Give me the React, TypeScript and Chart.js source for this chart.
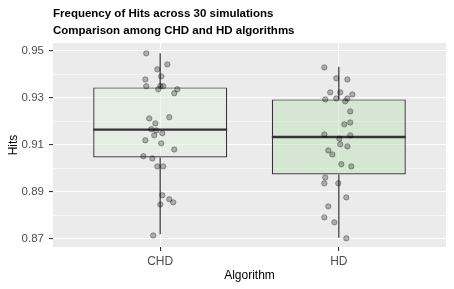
import React, { useEffect, useRef } from 'react';
import { Chart, registerables } from 'chart.js';

Chart.register(...registerables);

const titleLines = [
  'Frequency of Hits across 30 simulations',
  'Comparison among CHD and HD algorithms',
];
const categories = ['CHD', 'HD'];
const categoryPositions = [1, 2];
const xAxisTitle = 'Algorithm';
const yAxisTitle = 'Hits';

// box statistics per algorithm
const q1 = [0.9046, 0.8974];
const medians = [0.9164, 0.9133];
const q3 = [0.9344, 0.9293];
const whiskerLow = [0.8719, 0.8704];
const whiskerHigh = [0.9489, 0.9432];
const boxFills = ['rgba(225,239,223,0.5)', 'rgba(191,225,187,0.5)'];

// jittered simulation results
const chdJitterX = [
  0.922, 1.04, 0.984, 1.006, 0.917, 0.922, 1.001, 1.017, 0.989, 1.096,
  1.079, 0.939, 1.051, 0.973, 0.95, 0.978, 1.012, 0.967, 0.917, 1.006,
  1.079, 0.906, 0.956, 0.984, 1.017, 1.012, 1.051, 1.073, 1.001, 0.961,
];
const chdHits = [
  0.9489, 0.9442, 0.9421, 0.9391, 0.9378, 0.9349, 0.935, 0.9349, 0.9336, 0.9336,
  0.9319, 0.9212, 0.9217, 0.9191, 0.9166, 0.9161, 0.9149, 0.914, 0.9119, 0.9106,
  0.908, 0.9051, 0.9042, 0.9008, 0.9008, 0.8885, 0.8868, 0.8855, 0.8846, 0.8714,
];
const hdJitterX = [
  1.919, 1.986, 2.048, 1.952, 2.008, 2.076, 1.924, 1.986, 2.048, 2.036,
  2.064, 2.064, 2.031, 1.919, 2.064, 2.003, 2.008, 2.048, 1.941, 1.964,
  2.014, 2.07, 1.924, 1.919, 1.997, 2.042, 1.941, 1.919, 1.975, 2.042,
];
const hdHits = [
  0.9429, 0.9383, 0.9378, 0.9323, 0.9323, 0.9314, 0.9293, 0.9297, 0.9297, 0.9285,
  0.9242, 0.9195, 0.9187, 0.9144, 0.914, 0.9126, 0.9102, 0.9093, 0.9076, 0.9059,
  0.9017, 0.9008, 0.8961, 0.8936, 0.8936, 0.8876, 0.8838, 0.8791, 0.877, 0.8702,
];

const yMajorTicks = [0.87, 0.89, 0.91, 0.93, 0.95];
const yTickLabels = ['0.87', '0.89', '0.91', '0.93', '0.95'];
const yMinorTicks = [0.88, 0.9, 0.92, 0.94];
const yMin = 0.8665;
const yMax = 0.9533;
const xMin = 0.4;
const xMax = 2.6;
const boxHalfWidth = 0.375;

const FONT = "'Liberation Sans', Arial, sans-serif";

const isMinor = (v: number) => yMinorTicks.some((m) => Math.abs(m - v) < 1e-6);

const panelBackground = {
  id: 'panelBackground',
  beforeDraw(chart: any) {
    const { ctx, chartArea } = chart;
    ctx.save();
    ctx.fillStyle = '#EBEBEB';
    ctx.fillRect(chartArea.left, chartArea.top, chartArea.width, chartArea.height);
    ctx.restore();
  },
};

export default function App() {
  const canvasRef = useRef<HTMLCanvasElement | null>(null);

  useEffect(() => {
    if (!canvasRef.current) return;

    const boxData = categoryPositions.map((x, i) => ({ x, y: [q1[i], q3[i]] }));
    const medianData: any[] = [];
    const whiskerData: any[] = [];
    categoryPositions.forEach((x, i) => {
      if (i > 0) medianData.push({ x: x - 0.5, y: null });
      medianData.push({ x: x - boxHalfWidth, y: medians[i] });
      medianData.push({ x: x + boxHalfWidth, y: medians[i] });
      if (i > 0) whiskerData.push({ x, y: null });
      whiskerData.push({ x, y: whiskerLow[i] });
      whiskerData.push({ x, y: q1[i] });
      whiskerData.push({ x, y: null });
      whiskerData.push({ x, y: q3[i] });
      whiskerData.push({ x, y: whiskerHigh[i] });
    });
    const pointData = [
      ...chdJitterX.map((x, i) => ({ x, y: chdHits[i] })),
      ...hdJitterX.map((x, i) => ({ x, y: hdHits[i] })),
    ];

    const chart = new Chart(canvasRef.current, {
      type: 'bar',
      data: {
        datasets: [
          {
            type: 'scatter',
            data: pointData,
            order: 0,
            pointRadius: 2.7,
            pointBackgroundColor: 'rgba(0,0,0,0.27)',
            pointBorderColor: 'rgba(0,0,0,0.3)',
            pointBorderWidth: 1,
          } as any,
          {
            type: 'line',
            data: medianData,
            order: 1,
            borderColor: '#333333',
            borderWidth: 2.3,
            pointRadius: 0,
            spanGaps: false,
          } as any,
          {
            type: 'bar',
            data: boxData,
            order: 2,
            backgroundColor: boxFills,
            borderColor: '#333333',
            borderWidth: 1.2,
            borderSkipped: false,
            categoryPercentage: 1,
            barPercentage: 0.75,
            grouped: false,
          } as any,
          {
            type: 'line',
            data: whiskerData,
            order: 3,
            borderColor: '#333333',
            borderWidth: 1.2,
            pointRadius: 0,
            spanGaps: false,
          } as any,
        ],
      },
      options: {
        animation: false,
        responsive: false,
        maintainAspectRatio: false,
        layout: { padding: { left: 0, right: 8, top: 0, bottom: 0 } },
        plugins: {
          legend: { display: false },
          tooltip: { enabled: false },
          title: {
            display: true,
            text: titleLines,
            align: 'start',
            fullSize: false,
            color: '#000000',
            font: { family: FONT, size: 11.5, weight: 'bold', lineHeight: '17px' as any },
            padding: { top: 5.5, bottom: 3.5 },
          },
        },
        scales: {
          x: {
            type: 'linear',
            min: xMin,
            max: xMax,
            offset: false,
            afterBuildTicks: (scale: any) => {
              scale.ticks = categoryPositions.map((v) => ({ value: v }));
            },
            afterFit: (scale: any) => {
              scale.height = 42;
            },
            border: { display: false },
            grid: {
              offset: false,
              color: '#FFFFFF',
              lineWidth: 1.1,
              tickColor: '#333333',
              tickLength: 4,
              tickWidth: 1.1,
            },
            ticks: {
              autoSkip: false,
              maxRotation: 0,
              padding: 3,
              color: '#4D4D4D',
              font: { family: FONT, size: 12 },
              callback: (value: any) => {
                const idx = categoryPositions.indexOf(Number(value));
                return idx >= 0 ? categories[idx] : '';
              },
            },
            title: {
              display: true,
              text: xAxisTitle,
              color: '#000000',
              font: { family: FONT, size: 12 },
              padding: { top: 0, bottom: 6.5 },
            },
          },
          y: {
            type: 'linear',
            min: yMin,
            max: yMax,
            afterBuildTicks: (scale: any) => {
              const all = [...yMajorTicks, ...yMinorTicks].sort((a, b) => a - b);
              scale.ticks = all.map((v) => ({ value: v }));
            },
            afterFit: (scale: any) => {
              scale.width = 53;
            },
            border: { display: false },
            grid: {
              color: '#FFFFFF',
              lineWidth: (ctx: any) => (ctx.tick && isMinor(ctx.tick.value) ? 0.55 : 1.1),
              tickColor: (ctx: any) =>
                ctx.tick && isMinor(ctx.tick.value) ? 'rgba(0,0,0,0)' : '#333333',
              tickLength: 4,
              tickWidth: 1.1,
            },
            ticks: {
              autoSkip: false,
              padding: 5,
              color: '#4D4D4D',
              font: { family: FONT, size: 11.5 },
              callback: (value: any) => {
                const idx = yMajorTicks.findIndex((m) => Math.abs(m - Number(value)) < 1e-6);
                return idx >= 0 ? yTickLabels[idx] : '';
              },
            },
            title: {
              display: true,
              text: yAxisTitle,
              color: '#000000',
              font: { family: FONT, size: 12 },
              padding: { top: 6, bottom: 0 },
            },
          },
        },
      } as any,
      plugins: [panelBackground],
    });

    return () => chart.destroy();
  }, []);

  return (
    <div style={{ position: 'fixed', left: 0, top: 0, width: 454, height: 289, background: '#FFFFFF' }}>
      <canvas ref={canvasRef} width={454} height={289} style={{ display: 'block', width: 454, height: 289 }} />
    </div>
  );
}
